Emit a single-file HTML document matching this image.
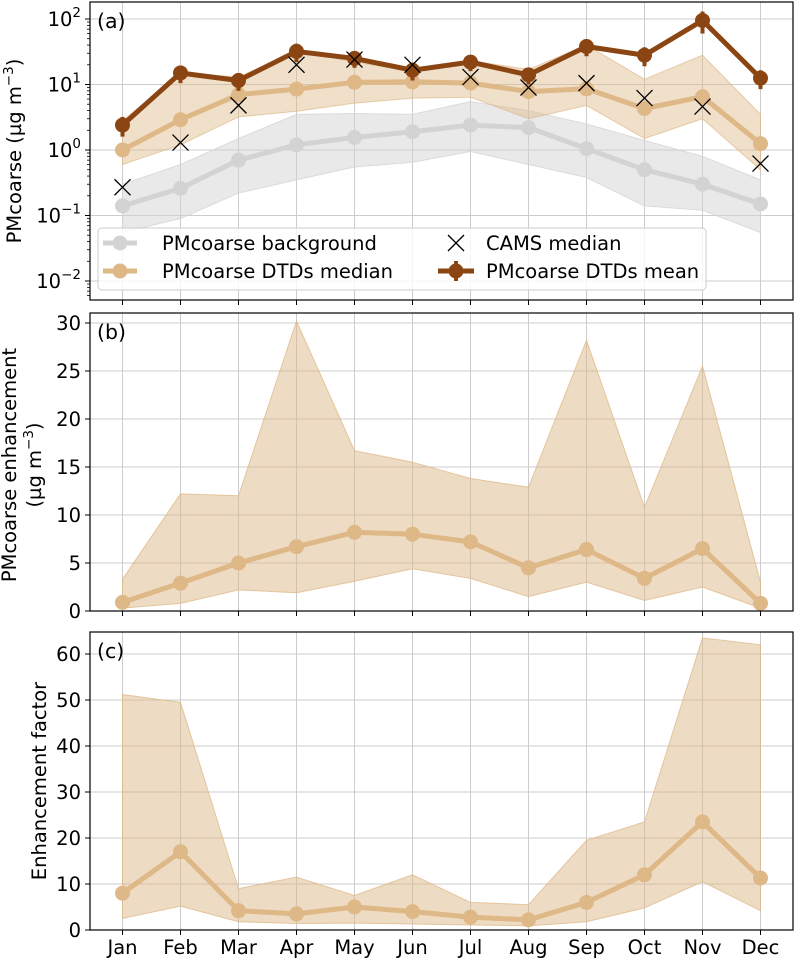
<!DOCTYPE html>
<html><head><meta charset="utf-8">
<style>
html,body{margin:0;padding:0;background:#fff;}
svg{display:block;font-family:"DejaVu Sans","Liberation Sans",sans-serif;}
</style></head>
<body>
<svg id="chart" width="795" height="959" viewBox="0 0 795 959" xmlns="http://www.w3.org/2000/svg"></svg>
<script>
const months=["Jan","Feb","Mar","Apr","May","Jun","Jul","Aug","Sep","Oct","Nov","Dec"];
// Panel (a) values (µg m-3)
const bgMed=[0.14,0.26,0.7,1.2,1.55,1.9,2.4,2.2,1.05,0.5,0.3,0.15];
const bgLo=[0.055,0.09,0.22,0.35,0.55,0.65,0.95,0.6,0.38,0.14,0.12,0.055];
const bgHi=[0.3,0.6,1.5,3.5,3.6,3.5,5.5,4,2.5,1.4,0.8,0.35];
const dtdMed=[1.0,2.9,7,8.5,10.8,11,10.5,7.8,8.6,4.3,6.5,1.25];
const dtdLo=[0.6,1.2,3.2,3.9,5.2,6.2,6.4,3,4.8,1.5,3,0.5];
const dtdHi=[2.8,15,13,33,22,16,23,17,40,12,28,3.5];
const dtdMean=[2.4,15,11.5,32,25,16.5,22,14,38,28,95,12.5];
const dtdMeanErr=[0.8,4.5,3.5,10,7,5,6,4,11,9,35,4];
const cams=[0.27,1.3,4.8,20,24,20,13,9,10.5,6.2,4.6,0.62];
// Panel (b)
const enhMed=[0.9,2.9,5,6.7,8.2,8,7.2,4.5,6.4,3.4,6.5,0.8];
const enhHi=[3.3,12.2,12,30.2,16.7,15.5,13.8,12.9,28.2,10.8,25.5,3];
const enhLo=[0.3,0.8,2.2,1.9,3.1,4.4,3.4,1.5,3,1.1,2.5,0.3];
// Panel (c)
const efMed=[8,17,4.2,3.5,5,4,2.8,2.2,6,12,23.5,11.3];
const efHi=[51.2,49.5,9,11.5,7.5,12,6,5.5,19.5,23.5,63.5,62];
const efLo=[2.5,5.2,1.8,1.4,1.5,1.3,1.1,0.9,1.8,4.8,10.5,4.2];
const ticksB=[0,5,10,15,20,25,30];
const ticksC=[0,10,20,30,40,50,60];

const NS="http://www.w3.org/2000/svg";
const svg=document.getElementById("chart");
function el(tag,attrs,parent,text){const e=document.createElementNS(NS,tag);for(const k in attrs)e.setAttribute(k,attrs[k]);if(text!==undefined)e.textContent=text;(parent||svg).appendChild(e);return e;}
const L=90,R=793,FS=19.5;
const x=i=>122.5+i*58;
const ya=v=>150-65.5*Math.log10(v);
const yb=v=>611-9.6*v;
const yc=v=>930-4.6*v;
const GRID="#cccccc",TAN="#deb887",BROWN="#8b4513",GRAY="#d3d3d3";

function panel(top,bot,name){
  const g=el("g",{});
  
  
  months.forEach((m,i)=>{el("line",{x1:x(i),x2:x(i),y1:top,y2:bot,stroke:GRID,"stroke-width":1},g);
    el("line",{x1:x(i),x2:x(i),y1:bot,y2:bot+5,stroke:"#000","stroke-width":1},g);});
  return g;
}
function frame(top,bot,g){el("rect",{x:L,y:top,width:R-L,height:bot-top,fill:"none",stroke:"#000","stroke-width":1.2},g);}
function band(lo,hi,yf,color,op,g,name){
  let d="M"+lo.map((v,i)=>x(i)+","+yf(v)).join(" L");
  d+=" L"+hi.map((v,i)=>[x(i),yf(v)]).reverse().map(p=>p[0]+","+p[1]).join(" L")+" Z";
  const p=el("path",{d:d,fill:color,"fill-opacity":op,stroke:color,"stroke-opacity":op*1.5,"stroke-width":1},g);
  
  
}
function line(vals,yf,color,w,r,g,name){
  const gg=el("g",{},g);
  
  
  el("polyline",{points:vals.map((v,i)=>x(i)+","+yf(v)).join(" "),fill:"none",stroke:color,"stroke-width":w,"stroke-linejoin":"round"},gg);
  vals.forEach((v,i)=>el("circle",{cx:x(i),cy:yf(v),r:r,fill:color},gg));
}
function ytick(y,label,g,sup){
  el("line",{x1:L-5,x2:L,y1:y,y2:y,stroke:"#000"},g);
  const t=el("text",{x:L-9,y:y+7,"text-anchor":"end","font-size":FS,fill:"#000"},g);
  if(sup!==undefined){el("tspan",{},t,"10");el("tspan",{dy:-9,"font-size":13.5},t,sup);}else t.textContent=label;
}

// Panel a
const ga=panel(2,300,"panel-a");
for(let e=-2;e<=2;e++){el("line",{x1:L,x2:R,y1:ya(Math.pow(10,e)),y2:ya(Math.pow(10,e)),stroke:GRID},ga);}
band(bgLo,bgHi,ya,GRAY,0.5,ga,"background-band");
band(dtdLo,dtdHi,ya,TAN,0.45,ga,"dtd-median-band");
line(bgMed,ya,GRAY,5,7.5,ga,"background-line");
line(dtdMed,ya,TAN,5,7.5,ga,"dtd-median-line");
const gm=el("g",{},ga);


el("polyline",{points:dtdMean.map((v,i)=>x(i)+","+ya(v)).join(" "),fill:"none",stroke:BROWN,"stroke-width":5},gm);
dtdMean.forEach((v,i)=>{
  const y1=ya(v+dtdMeanErr[i]),y2=ya(Math.max(v-dtdMeanErr[i],0.01));
  el("line",{x1:x(i),x2:x(i),y1:y1,y2:y2,stroke:BROWN,"stroke-width":4},gm);
  el("circle",{cx:x(i),cy:ya(v),r:7.5,fill:BROWN},gm);});
const gx=el("g",{},ga);


cams.forEach((v,i)=>{const cx=x(i),cy=ya(v),s=8;
  el("path",{d:`M${cx-s},${cy-s}L${cx+s},${cy+s}M${cx-s},${cy+s}L${cx+s},${cy-s}`,stroke:"#000","stroke-width":1.3},gx);});
frame(2,300,ga);
for(let e=-2;e<=2;e++)ytick(ya(Math.pow(10,e)),"",ga,e<0?"\u2212"+(-e):""+e);
for(let e=-3;e<=2;e++)for(let k=2;k<=9;k++){const y=ya(k*Math.pow(10,e));if(y>2&&y<300)el("line",{x1:L-3,x2:L,y1:y,y2:y,stroke:"#000","stroke-width":0.8},ga);}
el("text",{x:97,y:28,"font-size":20.5},ga,"(a)");
const yl=el("text",{transform:"translate(21,151) rotate(-90)","text-anchor":"middle","font-size":FS},ga);
el("tspan",{},yl,"PMcoarse (µg m");el("tspan",{dy:-8,"font-size":13.5},yl,"\u22123");el("tspan",{dy:8},yl,")");
// legend
const lg=el("g",{},ga);


el("rect",{x:98,y:228,width:608,height:62,rx:4,fill:"#fff","fill-opacity":0.8,stroke:"#ccc"},lg);
el("line",{x1:103,x2:137,y1:243,y2:243,stroke:GRAY,"stroke-width":5},lg);el("circle",{cx:120,cy:243,r:7.5,fill:GRAY},lg);
el("text",{x:162,y:250,"font-size":FS},lg,"PMcoarse background");
el("line",{x1:103,x2:137,y1:271,y2:271,stroke:TAN,"stroke-width":5},lg);el("circle",{cx:120,cy:271,r:7.5,fill:TAN},lg);
el("text",{x:162,y:278,"font-size":FS},lg,"PMcoarse DTDs median");
el("path",{d:"M448,235L464,251M448,251L464,235",stroke:"#000","stroke-width":1.3},lg);
el("text",{x:486,y:250,"font-size":FS},lg,"CAMS median");
el("line",{x1:438,x2:474,y1:271,y2:271,stroke:BROWN,"stroke-width":5},lg);el("line",{x1:456,x2:456,y1:261,y2:281,stroke:BROWN,"stroke-width":4},lg);el("circle",{cx:456,cy:271,r:7.5,fill:BROWN},lg);
el("text",{x:486,y:278,"font-size":FS},lg,"PMcoarse DTDs mean");

// Panel b
const gb=panel(313,611,"panel-b");
ticksB.forEach(t=>el("line",{x1:L,x2:R,y1:yb(t),y2:yb(t),stroke:GRID},gb));
band(enhLo,enhHi,yb,TAN,0.5,gb,"enhancement-band");
line(enhMed,yb,TAN,5,7.5,gb,"enhancement-line");
frame(313,611,gb);
ticksB.forEach(t=>ytick(yb(t),String(t),gb));
el("text",{x:97,y:339,"font-size":20.5},gb,"(b)");
el("text",{transform:"translate(16,465) rotate(-90)","text-anchor":"middle","font-size":FS},gb,"PMcoarse enhancement");
const yl2=el("text",{transform:"translate(41,465) rotate(-90)","text-anchor":"middle","font-size":FS},gb);
el("tspan",{},yl2,"(µg m");el("tspan",{dy:-8,"font-size":13.5},yl2,"\u22123");el("tspan",{dy:8},yl2,")");

// Panel c
const gc=panel(632,930,"panel-c");
ticksC.forEach(t=>el("line",{x1:L,x2:R,y1:yc(t),y2:yc(t),stroke:GRID},gc));
band(efLo,efHi,yc,TAN,0.5,gc,"factor-band");
line(efMed,yc,TAN,5,7.5,gc,"factor-line");
frame(632,930,gc);
ticksC.forEach(t=>ytick(yc(t),String(t),gc));
el("text",{x:97,y:658,"font-size":20.5},gc,"(c)");
el("text",{transform:"translate(46,781) rotate(-90)","text-anchor":"middle","font-size":FS},gc,"Enhancement factor");
months.forEach((m,i)=>{const t=el("text",{x:x(i),y:954,"text-anchor":"middle","font-size":FS},gc,m);
  
  });
</script>
</body></html>
